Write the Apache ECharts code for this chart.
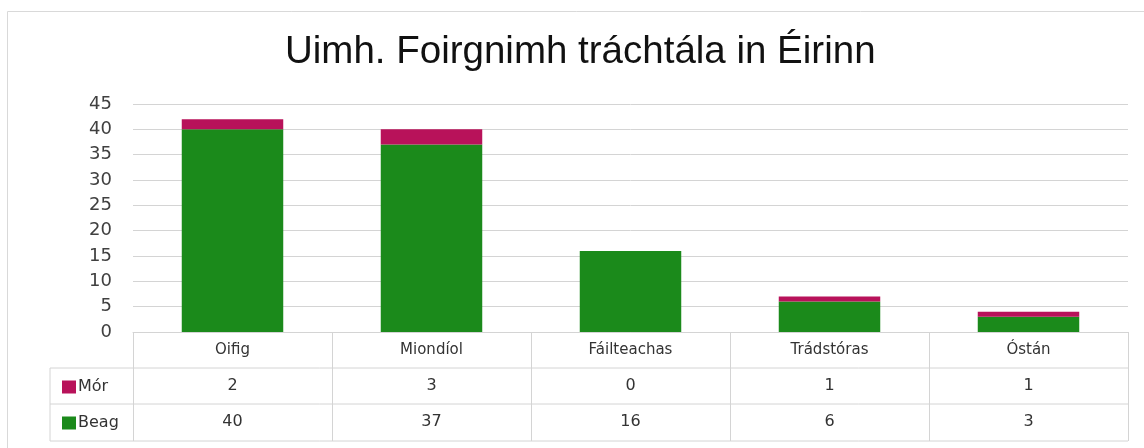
<!DOCTYPE html>
<html>
<head>
<meta charset="utf-8">
<script src="https://cdn.jsdelivr.net/npm/echarts@6/dist/echarts.min.js"></script>
<style>
  html, body { margin: 0; padding: 0; background: #fff; }
  #chart { width: 1144px; height: 448px; }
</style>
</head>
<body>
<div id="chart"></div>
<script>
const categories = ['Oifig', 'Miondíol', 'Fáilteachas', 'Trádstóras', 'Óstán']
const morValues = [2, 3, 0, 1, 1]
const beagValues = [40, 37, 16, 6, 3]
const seriesNames = ['Mór', 'Beag']
const yTicks = { min: 0, max: 45, interval: 5 }

const GREEN = '#1b8a1b'
const MAGENTA = '#b8125a'
const LINE = '#d4d4d4'
const TEXT = '#333'

const chart = echarts.init(document.getElementById('chart'))

// table geometry (pixels)
const gridLeft = 133, gridRight = 1128, axisY = 332
const rowMor = 368, rowBeag = 404, tableBottom = 441, legendX = 50

const tableLine = (x1, y1, x2, y2) => ({
  type: 'line',
  shape: { x1, y1, x2, y2 },
  style: { stroke: LINE, lineWidth: 1 },
  silent: true
})

const option = {
  animation: false,
  title: {
    text: 'Uimh. Foirgnimh tráchtála in Éirinn',
    left: 280,
    top: 28,
    textStyle: { fontFamily: 'Liberation Sans', fontSize: 38.5, fontWeight: 'normal', color: '#111' }
  },
  legend: {
    data: seriesNames,
    orient: 'vertical',
    left: 57,
    top: 374,
    itemWidth: 14,
    itemHeight: 13,
    itemGap: 20,
    icon: 'rect',
    selectedMode: false,
    textStyle: { fontFamily: 'DejaVu Sans', fontSize: 16, color: TEXT, padding: [0, 0, 0, -3] }
  },
  grid: {
    left: gridLeft,
    right: 1144 - gridRight,
    top: 104,
    bottom: 448 - axisY,
    containLabel: false,
    outerBoundsMode: 'none'
  },
  xAxis: [
    {
      type: 'category',
      data: categories,
      axisLine: { show: true, lineStyle: { color: LINE } },
      axisTick: { show: true, length: tableBottom - axisY, lineStyle: { color: LINE } },
      axisLabel: { margin: 18, verticalAlign: 'middle', fontFamily: 'DejaVu Sans', fontSize: 15, color: TEXT }
    },
    {
      type: 'category',
      data: morValues.map(String),
      position: 'bottom',
      offset: rowMor - axisY,
      axisLine: { show: false },
      axisTick: { show: false },
      axisLabel: { margin: 18, verticalAlign: 'middle', fontFamily: 'DejaVu Sans', fontSize: 16, color: TEXT }
    },
    {
      type: 'category',
      data: beagValues.map(String),
      position: 'bottom',
      offset: rowBeag - axisY,
      axisLine: { show: false },
      axisTick: { show: false },
      axisLabel: { margin: 18, verticalAlign: 'middle', fontFamily: 'DejaVu Sans', fontSize: 16, color: TEXT }
    }
  ],
  yAxis: {
    type: 'value',
    min: yTicks.min,
    max: yTicks.max,
    interval: yTicks.interval,
    axisLine: { show: false },
    axisTick: { show: false },
    axisLabel: { margin: 21, fontFamily: 'DejaVu Sans', fontSize: 18, color: '#404040' },
    splitLine: { lineStyle: { color: LINE } }
  },
  series: [
    {
      name: 'Beag',
      type: 'bar',
      stack: 'total',
      data: beagValues,
      barWidth: '51%',
      itemStyle: { color: GREEN }
    },
    {
      name: 'Mór',
      type: 'bar',
      stack: 'total',
      data: morValues,
      itemStyle: { color: MAGENTA }
    }
  ],
  graphic: [
    // outer frame (only top and left edges fall inside the picture)
    { type: 'rect', shape: { x: 7.5, y: 11.5, width: 1200, height: 500 }, style: { fill: 'none', stroke: '#d9d9d9', lineWidth: 1 }, silent: true, z: -10 },
    tableLine(legendX, rowMor, gridRight, rowMor),
    tableLine(legendX, rowBeag, gridRight, rowBeag),
    tableLine(legendX, tableBottom, gridRight, tableBottom),
    tableLine(legendX, rowMor, legendX, tableBottom)
  ]
}

chart.setOption(option)
</script>
</body>
</html>
